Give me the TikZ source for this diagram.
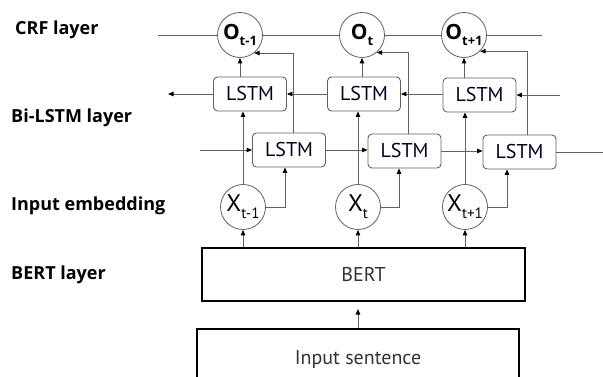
\documentclass[tikz,border=0pt]{standalone}
\usepackage{fontspec}
\setmainfont{PT Sans}
\newfontfamily\labfont{Open Sans}
\usetikzlibrary{arrows.meta,calc}
\begin{document}
\begin{tikzpicture}[x=1pt,y=-1pt,
  ln/.style={draw=black!62,line width=0.9pt},
  arr/.style={ln,-{Triangle[length=5.5pt,width=4.5pt,color=black]}},
  lstm/.style={draw=black!62,line width=0.9pt,rounded corners=4pt,minimum width=73pt,minimum height=34pt,inner sep=0pt,font=\fontsize{20}{20}\selectfont,text=black!85!blue},
  crc/.style={circle,draw=black!62,line width=0.8pt,minimum size=45pt,inner sep=0pt},
  big/.style={draw=black,line width=2pt,inner sep=0pt,font=\fontsize{20}{20}\selectfont,text=black!80},
  lab/.style={anchor=base west,inner sep=0pt,font=\labfont\bfseries\fontsize{18}{18}\selectfont}
]
\useasboundingbox (0,0) rectangle (603,377);
% labels
\node[lab] (l1) at (15,35) {CRF layer};
\node[lab] (l2) at (11,123) {Bi-LSTM layer};
\node[lab] (l3) at (11,211) {Input embedding};
\node[lab] (l4) at (11,279) {BERT layer};
% symbols
\newcommand{\osym}[1]{{\labfont\bfseries\fontsize{21}{21}\selectfont O\raisebox{-0.28em}{\fontsize{13}{13}\selectfont #1}}}
\newcommand{\xsym}[1]{{\fontsize{24}{24}\selectfont X\raisebox{-0.3em}{\fontsize{15}{15}\selectfont #1}}}
\node[crc] (O1) at (240,35) {\osym{t-1}};
\node[crc] (O2) at (362,35) {\osym{t}};
\node[crc] (O3) at (464,35) {\osym{t+1}};
% LSTM boxes
\node[lstm] (U1) at (250,94) {LSTM};
\node[lstm] (U2) at (364,94) {LSTM};
\node[lstm] (U3) at (479.5,95) {LSTM};
\node[lstm] (L1) at (289,150) {LSTM};
\node[lstm] (L2) at (404.5,151) {LSTM};
\node[lstm] (L3) at (519.5,152) {LSTM};
% inputs
\node[crc] (X1) at (243,207) {\xsym{t-1}};
\node[crc] (X2) at (358,207) {\xsym{t}};
\node[crc] (X3) at (465,207) {\xsym{t+1}};
% BERT and input
\node[big,minimum width=323pt,minimum height=53pt] (B) at (363.5,274.5) {BERT};
\node[big,minimum width=322pt,minimum height=60pt] (IN) at (358,359) {Input sentence};
% free ends
\coordinate (c0) at (158,35);
\coordinate (c4) at (542,35);
\coordinate (uin) at (560,95);
\coordinate (uout) at (168,94);
\coordinate (lin) at (200,150);
\coordinate (lout) at (603,152);
\coordinate (k1) at (293,0);
\coordinate (k2) at (408,0);
\coordinate (k3) at (527,0);
\coordinate (j1) at (285,0);
\coordinate (j2) at (399,0);
\coordinate (j3) at (507,0);
% CRF chain
\draw[ln] (c0) -- (O1.west);
\draw[ln] (O1.east) -- (O2.west);
\draw[ln] (O2.east) -- (O3.west);
\draw[ln] (O3.east) -- (c4);
% backward layer
\draw[arr] (uin) -- (U3.east |- uin);
\draw[arr] (U3.west |- U2.east) -- (U2.east);
\draw[arr] (U2.west) -- (U1.east);
\draw[arr] (U1.west) -- (uout);
% forward layer
\draw[arr] (lin) -- (L1.west);
\draw[arr] (L1.east) -- (L2.west |- L1.east);
\draw[arr] (L2.east) -- (L3.west |- L2.east);
\draw[ln] (L3.east) -- (lout);
% LSTM -> O
\draw[arr] (U1.north -| O1) -- (O1.south);
\draw[arr] (U2.north -| O2) -- (O2.south);
\draw[arr] (U3.north -| O3) -- (O3.south);
\draw[arr] (L1.north -| k1) |- (O1.-52);
\draw[arr] (L2.north -| k2) |- (O2.-50);
\draw[arr] (L3.north -| k3) |- (O3.-45);
% X -> LSTM
\draw[arr] (X1.north) -- (X1.north |- U1.south);
\draw[arr] (X2.north) -- (X2.north |- U2.south);
\draw[arr] (X3.north) -- (X3.north |- U3.south);
\draw[arr] (X1.east) -| (L1.south -| j1);
\draw[arr] (X2.east) -| (L2.south -| j2);
\draw[arr] (X3.east) -| (L3.south -| j3);
% BERT -> X
\draw[arr] (B.north -| X1) -- (X1.south);
\draw[arr] (B.north -| X2) -- (X2.south);
\draw[arr] (B.north -| X3) -- (X3.south);
% input -> BERT
\draw[arr,shorten >=7pt] (IN.north -| X2) -- (B.south -| X2);
\end{tikzpicture}
\end{document}
